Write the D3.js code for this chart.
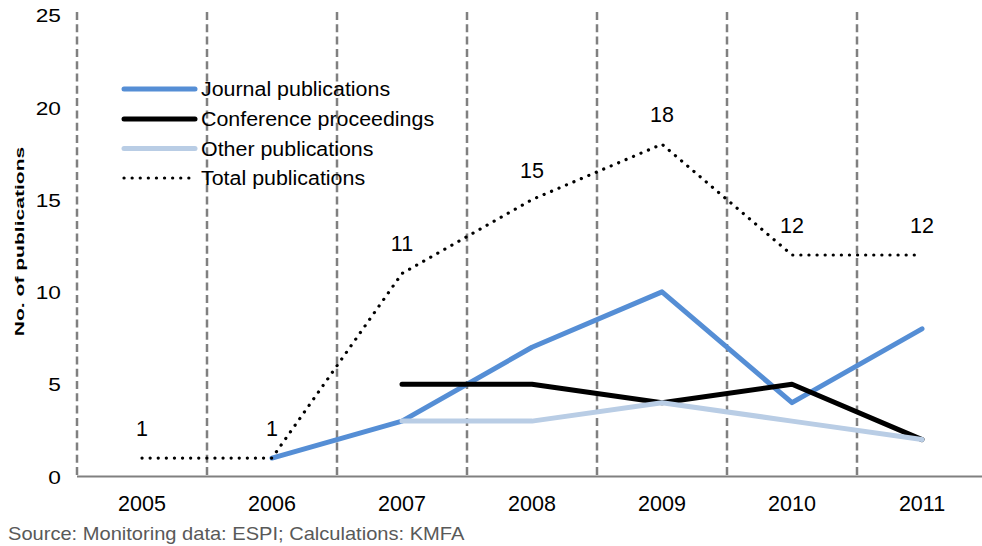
<!DOCTYPE html>
<html>
<head>
<meta charset="utf-8">
<script src="https://cdn.jsdelivr.net/npm/d3@7"></script>
<style>
  html, body { margin: 0; padding: 0; background: #fff; }
  svg { display: block; font-family: "Liberation Sans", Arial, sans-serif; }
</style>
</head>
<body>
<svg id="chart" width="982" height="546"></svg>
<script>
const years = ["2005", "2006", "2007", "2008", "2009", "2010", "2011"];
const journal = [null, 1, 3, 7, 10, 4, 8];
const conference = [null, null, 5, 5, 4, 5, 2];
const other = [null, null, 3, 3, 4, 3, 2];
const total = [1, 1, 11, 15, 18, 12, 12];
const yTicks = [0, 5, 10, 15, 20, 25];
const seriesNames = ["Journal publications", "Conference proceedings", "Other publications", "Total publications"];
const sourceText = "Source: Monitoring data: ESPI; Calculations: KMFA";
const yTitle = "No. of publications";

const svg = d3.select("#chart");
const x = d3.scaleBand().domain(years).range([77, 987]).padding(0);
const y = d3.scaleLinear().domain([0, 25]).range([476.5, 15]);
const cx = d => x(d) + x.bandwidth() / 2;

// dashed vertical separators
svg.append("g").selectAll("line").data(years).join("line")
  .attr("x1", d => x(d)).attr("x2", d => x(d))
  .attr("y1", 12).attr("y2", y(0))
  .attr("stroke", "#808080").attr("stroke-width", 2.5)
  .attr("stroke-dasharray", "8,4.3");

// x axis line
svg.append("line").attr("x1", 77).attr("x2", 982).attr("y1", y(0)).attr("y2", y(0))
  .attr("stroke", "#808080").attr("stroke-width", 2);

// y tick labels (via d3 axis, domain/ticks hidden)
const yAxis = svg.append("g").attr("transform", "translate(61,0)")
  .call(d3.axisLeft(y).tickValues(yTicks).tickSize(0).tickPadding(0));
yAxis.select(".domain").remove();
yAxis.selectAll("text")
  .attr("font-family", "Liberation Sans, Arial, sans-serif")
  .attr("font-size", 18.6).attr("fill", "#000")
  .attr("x", 0).attr("dy", null).attr("y", null)
  .attr("dominant-baseline", "central")
  .attr("transform", "scale(1.22,1)")
  .each(function(){ const t = d3.select(this); });
// Fix scaling anchor: scale about right edge
yAxis.selectAll(".tick text").attr("transform", null).attr("text-anchor", "end")
  .attr("transform", "scale(1.22,1)");

// x tick labels
const xAxis = svg.append("g").attr("transform", `translate(0,${y(0)})`)
  .call(d3.axisBottom(x).tickSize(0).tickPadding(0));
xAxis.select(".domain").remove();
xAxis.selectAll("text")
  .attr("font-family", "Liberation Sans, Arial, sans-serif")
  .attr("font-size", 21.5).attr("fill", "#000")
  .attr("y", 34.5).attr("dy", null);

// lines
const lineGen = d3.line().defined(d => d.v !== null).x(d => cx(d.k)).y(d => y(d.v));
const mk = arr => years.map((k, i) => ({ k, v: arr[i] }));
const styles = [
  { data: journal, color: "#558ED5", width: 5, dash: null },
  { data: conference, color: "#000000", width: 5, dash: null },
  { data: other, color: "#B9CDE5", width: 5, dash: null },
  { data: total, color: "#000000", width: 3.2, dash: "0.1,8" }
];
styles.forEach(s => {
  svg.append("path").datum(mk(s.data)).attr("d", lineGen)
    .attr("fill", "none").attr("stroke", s.color).attr("stroke-width", s.width)
    .attr("stroke-linecap", "round").attr("stroke-linejoin", "round")
    .attr("stroke-dasharray", s.dash);
});

// total data labels
svg.append("g").selectAll("text").data(mk(total)).join("text")
  .attr("x", d => cx(d.k)).attr("y", d => y(d.v) - 29)
  .attr("dominant-baseline", "central").attr("text-anchor", "middle")
  .attr("font-size", 21.5).attr("fill", "#000")
  .text(d => d.v);

// legend
const lg = svg.append("g");
const rowY = [89, 119, 148.5, 178];
styles.forEach((s, i) => {
  lg.append("line").attr("x1", 124).attr("x2", 195).attr("y1", rowY[i]).attr("y2", rowY[i])
    .attr("stroke", s.color).attr("stroke-width", s.width)
    .attr("stroke-linecap", "round").attr("stroke-dasharray", s.dash);
  lg.append("text").attr("transform", `translate(201,${rowY[i]}) scale(1.07,1)`)
    .attr("dominant-baseline", "central").attr("font-size", 20).attr("fill", "#000")
    .text(seriesNames[i]);
});

// y title
svg.append("text")
  .attr("transform", `translate(19,${(145 + 338) / 2}) rotate(-90) scale(1.55,1)`)
  .attr("text-anchor", "middle").attr("dominant-baseline", "central")
  .attr("font-weight", "bold").attr("font-size", 13.6).attr("fill", "#000")
  .text(yTitle);

// source
svg.append("text").attr("transform", "translate(8,540) scale(1.08,1)")
  .attr("font-size", 18.6).attr("fill", "#595959").text(sourceText);
</script>
</body>
</html>
